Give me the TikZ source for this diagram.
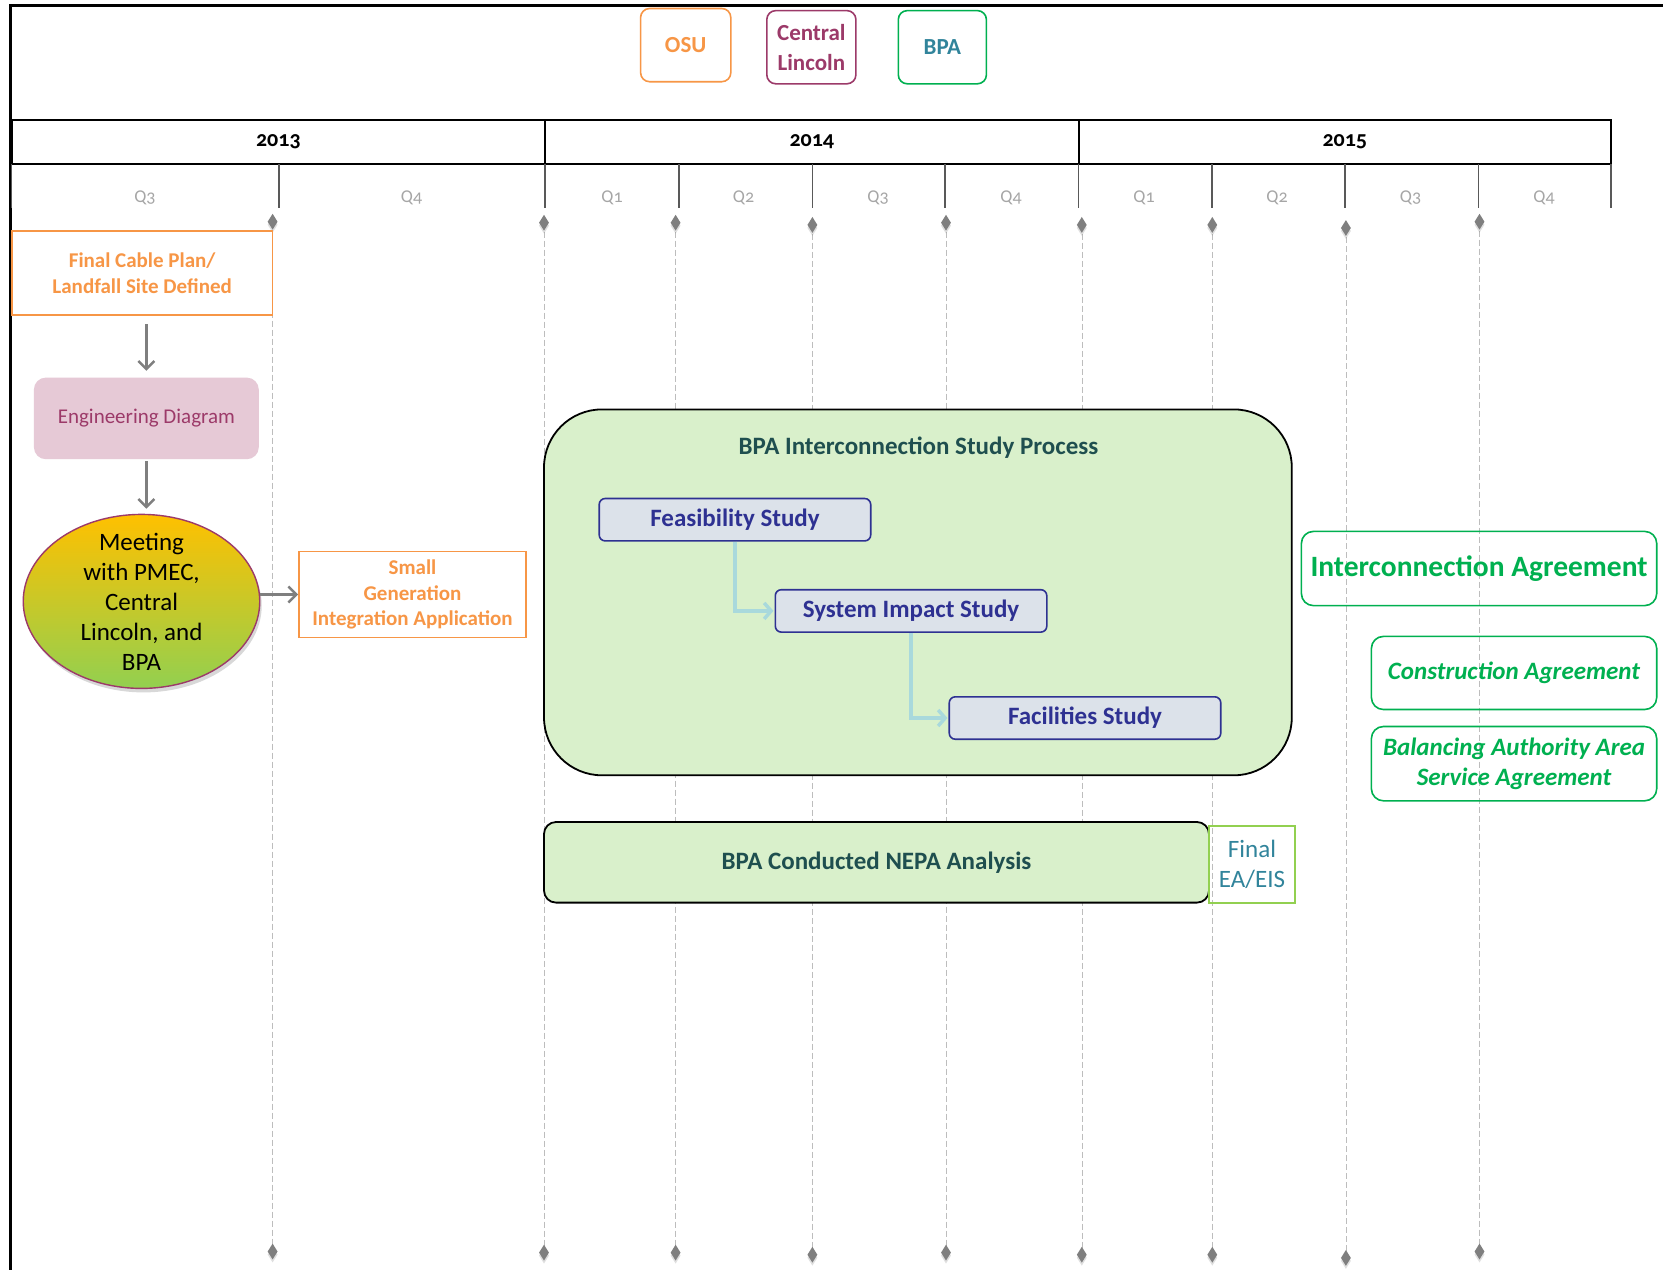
\documentclass[tikz,border=0pt]{standalone}
\usepackage{fontspec}
\setmainfont{Carlito}
\newfontfamily\oldfont{Carlito}[Numbers=OldStyle]
\usetikzlibrary{shapes.geometric,arrows.meta,shadows,calc}
\definecolor{orangeC}{HTML}{F79646}
\definecolor{maroonC}{HTML}{9C3A69}
\definecolor{engfill}{HTML}{E6C9D6}
\definecolor{bpaText}{HTML}{31849B}
\definecolor{greenC}{HTML}{00B050}
\definecolor{navyC}{HTML}{2E3192}
\definecolor{studyfill}{HTML}{DCE2EA}
\definecolor{titleC}{HTML}{1F4F4F}
\definecolor{bigfill}{HTML}{D9F0CB}
\definecolor{eaborder}{HTML}{92D050}
\definecolor{qgray}{HTML}{A6A6A6}
\definecolor{tickgray}{HTML}{595959}
\definecolor{diagray}{HTML}{7F7F7F}
\definecolor{dashgray}{HTML}{BDBDBD}
\definecolor{cyanC}{HTML}{A9D9DC}
\definecolor{yellowC}{HTML}{FFC000}
\definecolor{lgreenC}{HTML}{92D050}
\begin{document}
\begin{tikzpicture}[x=1pt,y=-1pt,
  yearcell/.style={draw, line width=2, minimum height=44, inner sep=0,
    font=\oldfont\bfseries\fontsize{22}{26}\selectfont},
  qlabel/.style={text=qgray, inner sep=0, font=\oldfont\fontsize{18}{20}\selectfont},
  tickline/.style={draw=tickgray, line width=1.2},
  dia/.style={diamond, fill=diagray, inner sep=0, minimum width=10, minimum height=16,
    drop shadow={shadow xshift=0pt, shadow yshift=-3pt, opacity=0.25}},
  vdash/.style={draw=dashgray, line width=0.6, dash pattern=on 6pt off 3pt},
  orgbox/.style={draw, rounded corners=9, line width=1.6, inner sep=0, align=center,
    font=\bfseries\fontsize{23}{30}\selectfont},
  obox/.style={draw=orangeC, line width=1.6, text=orangeC, inner sep=0, align=center,
    font=\bfseries\fontsize{21}{25.5}\selectfont},
  grayarrow/.style={draw=diagray, line width=2.5, -{Straight Barb[length=8pt,width=16pt]}},
  study/.style={draw=navyC, fill=studyfill, line width=1.6, rounded corners=6,
    minimum width=271.5, minimum height=42.4, inner sep=0, text=navyC,
    font=\bfseries\fontsize{25}{30}\selectfont},
  cyanarrow/.style={draw=cyanC, line width=3.5, -{Straight Barb[length=7pt,width=16pt]}},
  agree/.style={draw=greenC, line width=1.6, rounded corners=12, text=greenC, inner sep=0,
    align=center},
]
\useasboundingbox (0,0) rectangle (1663,1270);
\fill[white] (0,0) rectangle (1663,1270);

% outer frame
\draw[line width=2.5] (1663,5.3) -- (10.6,5.3) -- (10.6,1270);

% year header
\node[yearcell, minimum width=533.3] (y2013) at (278.35,142) {2013};
\node[yearcell, minimum width=533.6] (y2014) at (811.8,142) {2014};
\node[yearcell, minimum width=532.4] (y2015) at (1344.8,142) {2015};

% quarter ticks
\foreach \x in {11.7,279,545,679,812.4,945,1078.6,1212,1345,1478.5,1611}
  \draw[tickline] (\x,164) -- (\x,208);

% quarter labels
\node[qlabel] (q1) at (145,198) {Q3};
\node[qlabel] (q2) at (411.5,198) {Q4};
\node[qlabel] (q3) at (612,198) {Q1};
\node[qlabel] (q4) at (743.5,198) {Q2};
\node[qlabel] (q5) at (878,198) {Q3};
\node[qlabel] (q6) at (1011,198) {Q4};
\node[qlabel] (q7) at (1144,198) {Q1};
\node[qlabel] (q8) at (1277,198) {Q2};
\node[qlabel] (q9) at (1410.6,198) {Q3};
\node[qlabel] (q10) at (1544,198) {Q4};

% diamonds (top and bottom) with dashed lines
\foreach \i/\x/\yt/\yb in {1/272.6/221.7/1251.5, 2/544/222.7/1252.6, 3/675.6/222.7/1252.6,
  4/812.4/224.9/1254.7, 5/946/222.7/1252.6, 6/1081.8/224.9/1254.7, 7/1212.3/224.9/1254.7,
  8/1345.9/228/1257.9, 9/1479.5/221.7/1251.5}{
  \coordinate (ct\i) at (\x,\yt);
  \coordinate (cb\i) at (\x,\yb);
  \draw[vdash] (ct\i) -- (cb\i);
  \node[dia] (dt\i) at (ct\i) {};
  \node[dia] (db\i) at (cb\i) {};
}

% organisation legend
\node[orgbox, draw=orangeC, text=orangeC, minimum width=90.2, minimum height=73.2] (osu) at (685.7,45.1) {OSU};
\node[orgbox, draw=maroonC, text=maroonC, minimum width=89.1, minimum height=73.2] (cl) at (811.35,47.2) {Central\\Lincoln};
\node[orgbox, draw=greenC, text=bpaText, minimum width=88.1, minimum height=73.2] (bpa) at (942.35,47.2) {BPA};

% left flow
\node[obox, minimum width=260.9, minimum height=83.8] (fcp) at (142.15,273.1) {Final Cable Plan/\\Landfall Site Defined};
\node[fill=engfill, rounded corners=12, minimum width=224.9, minimum height=81.6, inner sep=0,
  text=maroonC, font=\fontsize{21}{24}\selectfont] (eng) at (146.35,418.4) {Engineering Diagram};
\node[ellipse, draw=maroonC, line width=1.4, top color=yellowC, bottom color=lgreenC,
  minimum width=236.5, minimum height=174, inner sep=0,
  drop shadow={shadow xshift=2pt, shadow yshift=-4pt, opacity=0.3},
  label={[name=meettext, align=center, inner sep=0, font=\fontsize{25}{30}\selectfont]center:{Meeting\\with PMEC,\\Central\\Lincoln, and\\BPA}}] (meet) at (141.5,601.4) {};
\node[obox, minimum width=227, minimum height=85.9] (sga) at (412.5,594.45) {Small\\Generation\\Integration Application};

\draw[grayarrow, shorten <=8.5pt, shorten >=6.6pt] (fcp.south -| eng.north) -- (eng.north);
\draw[grayarrow, shorten <=2pt, shorten >=5pt] (eng.south) -- (eng.south |- meet.north);
\draw[grayarrow] (sga.west -| meet.east) -- (sga.west);

% BPA interconnection study process
\node[draw=black, line width=1.8, fill=bigfill, rounded corners=58, minimum width=747.8,
  minimum height=365.9, inner sep=0] (big) at (917.9,592.35) {};
\node[text=titleC, inner sep=0, font=\bfseries\fontsize{25}{28}\selectfont] (bigtitle) at (918.5,447.6) {BPA Interconnection Study Process};
\node[study] (feas) at (734.95,519.7) {Feasibility Study};
\node[study] (sys) at (911.05,610.9) {System Impact Study};
\node[study] (fac) at (1085,718) {Facilities Study};
\draw[cyanarrow, shorten >=1pt] (feas.south) |- (sys.west);
\draw[cyanarrow, shorten >=1pt] (sys.south) |- (fac.west);

% agreements
\node[agree, minimum width=355.3, minimum height=74.2, font=\bfseries\fontsize{29.5}{32}\selectfont] (ia) at (1479.05,568.5) {Interconnection Agreement};
\node[agree, minimum width=285.3, minimum height=73.1, font=\bfseries\itshape\fontsize{25}{30}\selectfont] (ca) at (1514.05,672.95) {Construction Agreement};
\node[agree, minimum width=285.3, minimum height=74.3, font=\bfseries\itshape\fontsize{25}{30}\selectfont] (baa) at (1514.05,763.65) {Balancing Authority Area\\Service Agreement};

% NEPA
\node[draw=black, line width=1.8, fill=bigfill, rounded corners=12, minimum width=665,
  minimum height=80.6, inner sep=0, text=titleC, font=\bfseries\fontsize{25}{28}\selectfont] (nepa) at (876.5,862.3) {BPA Conducted NEPA Analysis};
\node[draw=eaborder, line width=2, minimum width=86, minimum height=76.6, inner sep=0,
  text=bpaText, align=center, font=\fontsize{25}{30}\selectfont] (ea) at (1252,864.3) {Final\\EA/EIS};
\end{tikzpicture}
\end{document}
